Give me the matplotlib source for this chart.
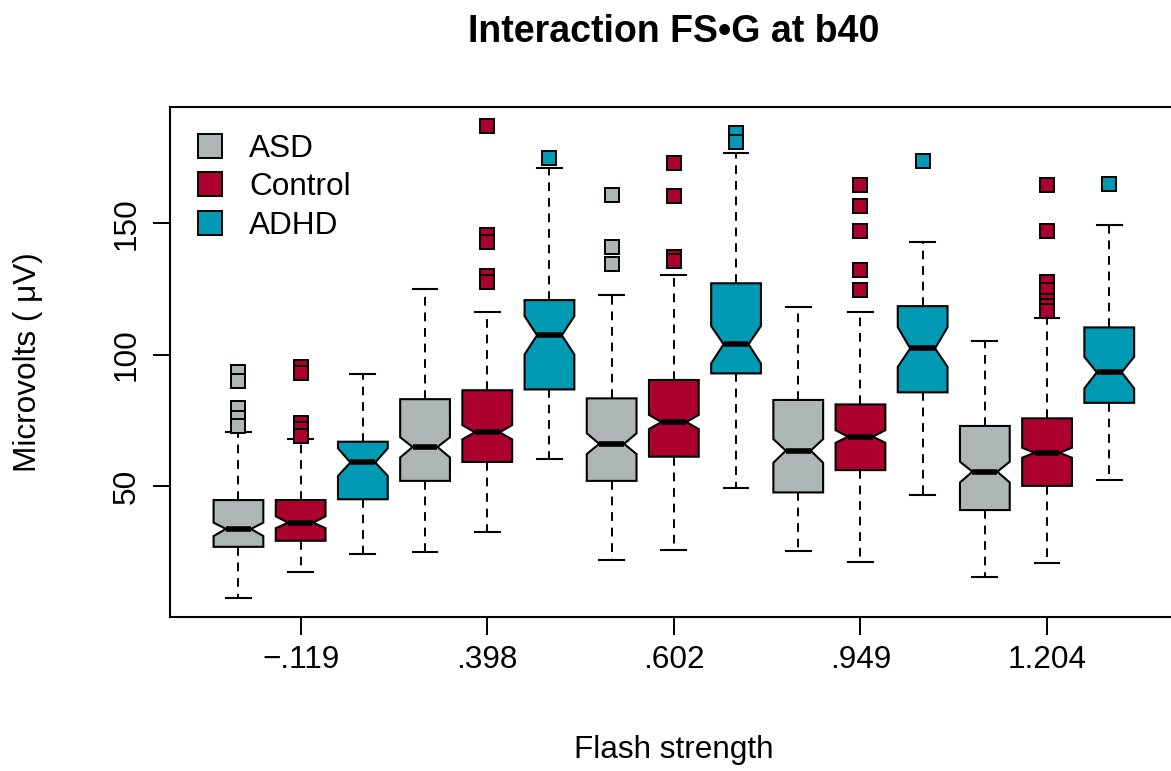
import matplotlib.pyplot as plt
from matplotlib.lines import Line2D

plt.rcParams['font.family'] = ['Liberation Sans', 'DejaVu Sans']

groups = ['ASD', 'Control', 'ADHD']
colors = ['#adb5b5', '#ac002e', '#009ab4']
strengths = ['\u2212.119', '.398', '.602', '.949', '1.204']

# one box per strength and group: ASD, Control, ADHD for -.119, then .398, ...
q1 = [26.9, 29.2, 45.0, 52.0, 59.2, 86.8, 52.0, 61.2, 92.9, 47.6, 56.1, 85.7, 40.9, 50.1, 81.7]
med = [33.7, 36.1, 59.0, 64.9, 70.5, 107.4, 66.1, 74.4, 104.0, 63.5, 68.8, 102.4, 55.5, 62.7, 93.3]
q3 = [44.7, 44.7, 66.9, 83.1, 86.5, 120.8, 83.4, 90.4, 127.2, 82.8, 81.1, 118.5, 72.9, 75.8, 110.4]
whislo = [7.3, 17.4, 24.3, 24.9, 32.4, 60.3, 21.9, 25.7, 49.4, 25.3, 21.0, 46.7, 15.5, 20.6, 52.3]
whishi = [70.7, 67.8, 92.8, 125.0, 116.3, 171.1, 122.7, 130.3, 176.7, 118.0, 116.4, 142.8, 105.1, 113.9, 149.4]
cilo = [31.0, 34.0, 53.9, 60.9, 67.8, 100.1, 62.2, 71.7, 96.7, 58.9, 66.5, 95.4, 51.4, 60.8, 87.2]
cihi = [36.1, 38.5, 64.4, 68.6, 73.2, 114.7, 70.1, 77.1, 110.9, 67.9, 71.3, 110.5, 59.3, 64.6, 99.2]
outliers = [
    [93.5, 90.1, 79.6, 75.8, 72.9],
    [95.2, 92.9, 74.1, 71.6, 69.1],
    [],
    [],
    [187.2, 145.6, 143.0, 130.1, 127.8],
    [174.8],
    [160.8, 141.1, 134.5],
    [172.9, 160.5, 137.3, 135.7],
    [184.3, 181.1],
    [],
    [164.6, 156.7, 147.1, 132.2, 124.6],
    [173.7],
    [],
    [164.6, 147.2, 127.8, 124.6, 120.6, 118.5, 116.8],
    [165.0],
]

stats = []
for i in range(len(med)):
    stats.append(dict(q1=q1[i], med=med[i], q3=q3[i], whislo=whislo[i], whishi=whishi[i],
                      cilo=cilo[i], cihi=cihi[i], fliers=outliers[i]))

fig = plt.figure(figsize=(11.71, 7.71), dpi=100)
ax = fig.add_axes([0.1452, 0.2001, 0.8605, 0.6615])

bp = ax.bxp(stats, positions=range(1, 16), widths=0.8, capwidths=0.4,
            shownotches=True, patch_artist=True,
            boxprops=dict(edgecolor='black', linewidth=1.5),
            whiskerprops=dict(color='black', linewidth=1.4, linestyle=(0, (4.5, 3.5))),
            capprops=dict(color='black', linewidth=1.5),
            medianprops=dict(color='black', linewidth=4, solid_capstyle='butt'),
            flierprops=dict(marker='s', markersize=9.5, markeredgecolor='black',
                            markeredgewidth=1.4, linestyle='none'))

for i, box in enumerate(bp['boxes']):
    box.set_facecolor(colors[i % 3])
for i, fl in enumerate(bp['fliers']):
    fl.set_markerfacecolor(colors[i % 3])

ax.set_xlim(-0.1, 16.1)
ax.set_ylim(0.3, 194.4)
ax.set_xticks([2, 5, 8, 11, 14], strengths)
ax.set_yticks([50, 100, 150])
ax.tick_params(axis='both', length=12.6, width=1.4, labelsize=22.7, pad=8)
for lab in ax.get_yticklabels():
    lab.set_rotation(90)
    lab.set_va('center')
for s in ax.spines.values():
    s.set_linewidth(1.5)

ax.set_xlabel('Flash strength', fontsize=22.7, va='center')
ax.xaxis.set_label_coords(0.5, -0.261)
ax.set_ylabel('Microvolts ( \u03bcV)', fontsize=22.7, va='center')
ax.yaxis.set_label_coords(-0.141, 0.5)

fig.text(0.5 * (0.1452 + 1.0057), 1 - 32 / 771, 'Interaction FS\u2022G at b40',
         fontsize=27, fontweight='bold', ha='center', va='center')

handles = [Line2D([], [], linestyle='none', marker='s', markersize=17.5,
                  markerfacecolor=c, markeredgecolor='black', markeredgewidth=1.4)
           for c in colors]
ax.legend(handles, groups, loc='upper left', bbox_to_anchor=(0.0275, 0.947),
          frameon=False, fontsize=22.7, borderpad=0, borderaxespad=0,
          handlelength=0.75, handletextpad=0.88, labelspacing=0.27)

fig.savefig('out.png', dpi=100)
